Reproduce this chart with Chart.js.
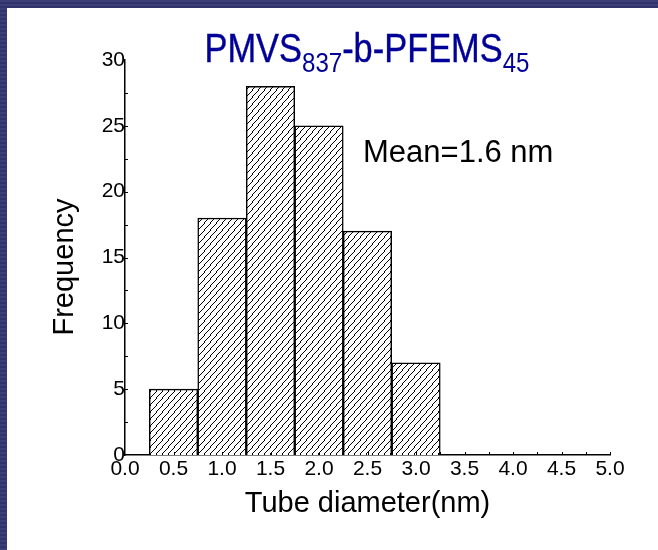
<!DOCTYPE html>
<html>
<head>
<meta charset="utf-8">
<script src="https://cdn.jsdelivr.net/npm/chart.js@4.4.0/dist/chart.umd.min.js"></script>
<style>
  html, body { margin: 0; padding: 0; }
  body {
    width: 658px; height: 550px; overflow: hidden; position: relative;
    background: repeating-linear-gradient(180deg, #3b3e78 0px, #3b3e78 2px, #31346c 2px, #31346c 4px);
  }
  #paper { position: absolute; left: 7px; top: 8px; width: 651px; height: 542px; background: #fff; }
  #chart { position: absolute; left: 0; top: 0; }
</style>
</head>
<body>
<div id="paper"></div>
<canvas id="chart" width="658" height="550"></canvas>
<script>
// histogram bins (centre of each 0.5 nm bin) and counts
const binCenters = [0.5, 1.0, 1.5, 2.0, 2.5, 3.0];
const frequency = [5, 18, 28, 25, 17, 7];

// tick labels
const xTickValues = [0.0, 0.5, 1.0, 1.5, 2.0, 2.5, 3.0, 3.5, 4.0, 4.5, 5.0];
const yTickValues = [0, 5, 10, 15, 20, 25, 30];
// small inward tick marks
const xMinorTicks = [0.25, 0.5, 0.75, 1.0, 1.25, 1.5, 1.75, 2.0, 2.25, 2.5, 2.75, 3.0, 3.25, 3.5, 3.75, 4.0, 4.25, 4.5, 4.75, 5.0];
const yMinorTicks = [2.5, 5, 7.5, 10, 12.5, 15, 17.5, 20, 22.5, 25, 27.5];

const FONT = "'Liberation Sans', Arial, sans-serif";

// diagonal hatch fill
function hatch() {
  const w = 6, h = 7;
  const c = document.createElement('canvas');
  c.width = w; c.height = h;
  const g = c.getContext('2d');
  g.fillStyle = '#fff';
  g.fillRect(0, 0, w, h);
  g.fillStyle = '#000';
  for (let y = 0; y < h; y++) {
    const x = Math.floor((h - 1 - y) * w / h);
    g.fillRect(x, y, 1, 1);
  }
  return g.createPattern(c, 'repeat');
}

const decor = {
  id: 'decor',
  afterDraw(chart) {
    const ctx = chart.ctx;
    const xs = chart.scales.x, ys = chart.scales.y;
    const area = chart.chartArea;
    ctx.save();
    ctx.strokeStyle = '#000';
    ctx.lineWidth = 1;
    ctx.beginPath();
    xMinorTicks.forEach(v => {
      const px = Math.round(xs.getPixelForValue(v)) + 0.5;
      ctx.moveTo(px, area.bottom);
      ctx.lineTo(px, area.bottom - 3);
    });
    yMinorTicks.forEach(v => {
      const py = Math.round(ys.getPixelForValue(v)) + 0.5;
      ctx.moveTo(area.left, py);
      ctx.lineTo(area.left + 3, py);
    });
    ctx.stroke();

    // title with subscripts, condensed like Arial Narrow
    const parts = [
      { t: 'PMVS', sub: false },
      { t: '837', sub: true },
      { t: '-b-PFEMS', sub: false },
      { t: '45', sub: true }
    ];
    const big = '40px ' + FONT, small = '28px ' + FONT;
    const squeeze = 0.86;
    let total = 0;
    parts.forEach(p => { ctx.font = p.sub ? small : big; p.w = ctx.measureText(p.t).width; total += p.w; });
    ctx.save();
    ctx.translate(367 - total * squeeze / 2, 0);
    ctx.scale(squeeze, 1);
    let x = 0;
    ctx.fillStyle = '#000099';
    ctx.strokeStyle = '#000099';
    ctx.lineWidth = 0.4;
    ctx.textBaseline = 'alphabetic';
    ctx.textAlign = 'left';
    parts.forEach(p => {
      ctx.font = p.sub ? small : big;
      const y = p.sub ? 72 : 62;
      ctx.fillText(p.t, x, y);
      if (!p.sub) ctx.strokeText(p.t, x, y);
      x += p.w;
    });
    ctx.restore();

    // annotation
    ctx.fillStyle = '#000';
    ctx.font = '31px ' + FONT;
    ctx.textAlign = 'left';
    ctx.fillText('Mean=1.6 nm', 363, 162);

    // axis titles
    ctx.font = '29px ' + FONT;
    ctx.textAlign = 'center';
    ctx.fillText('Tube diameter(nm)', (area.left + area.right) / 2, 512);
    ctx.translate(73, 267);
    ctx.rotate(-Math.PI / 2);
    ctx.fillText('Frequency', 0, 0);
    ctx.restore();
  }
};

new Chart(document.getElementById('chart'), {
  type: 'bar',
  data: {
    datasets: [{
      label: 'Frequency',
      data: binCenters.map((x, i) => ({ x: x, y: frequency[i] })),
      backgroundColor: hatch(),
      borderColor: '#000',
      borderWidth: 1.5,
      barPercentage: 1,
      categoryPercentage: 1
    }]
  },
  options: {
    responsive: false,
    animation: false,
    devicePixelRatio: 1,
    layout: { padding: { top: 60, right: 48, left: 0, bottom: 0 } },
    plugins: { legend: { display: false }, tooltip: { enabled: false } },
    scales: {
      x: {
        type: 'linear',
        min: 0,
        max: 5,
        offset: false,
        grid: { display: false, drawTicks: false, tickLength: 0, offset: false },
        border: { color: '#000', width: 1.5 },
        afterBuildTicks: s => { s.ticks = xTickValues.map(v => ({ value: v })); },
        afterFit: s => { s.height = 95; },
        ticks: {
          autoSkip: false,
          maxRotation: 0,
          padding: 2,
          color: '#000',
          font: { family: FONT, size: 21 },
          callback: v => Number(v).toFixed(1)
        }
      },
      y: {
        min: 0,
        max: 30,
        grid: { display: false, drawTicks: false, tickLength: 0 },
        border: { color: '#000', width: 1.5 },
        afterBuildTicks: s => { s.ticks = yTickValues.map(v => ({ value: v })); },
        afterFit: s => { s.width = 125; },
        ticks: {
          padding: 0,
          color: '#000',
          font: { family: FONT, size: 21 }
        }
      }
    }
  },
  plugins: [decor]
});
</script>
</body>
</html>
